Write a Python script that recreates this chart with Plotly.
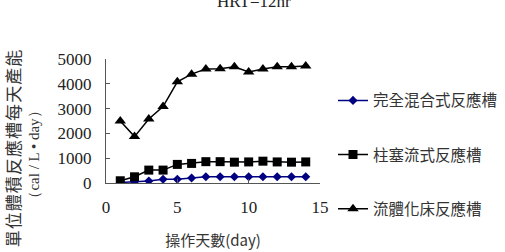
import plotly.graph_objects as go

days = list(range(1, 15))
cstr = [20, 50, 80, 150, 150, 200, 250, 250, 255, 255, 255, 255, 255, 255]
pfr = [90, 250, 520, 520, 750, 790, 860, 860, 840, 850, 880, 850, 840, 850]
fbr = [2500, 1870, 2580, 3080, 4080, 4390, 4600, 4610, 4690, 4480, 4600, 4690, 4690, 4720]
names = ["完全混合式反應槽", "柱塞流式反應槽", "流體化床反應槽"]
title_text = "HRT=12hr"
xtitle = "操作天數(day)"
ytitle1 = "單位體積反應槽每天產能"
ytitle2 = "（cal / L • day）"

CJK = "Noto Sans CJK TC"
SERIF = "Liberation Serif"

fig = go.Figure()
fig.add_trace(go.Scatter(x=days, y=cstr, name=names[0], mode="lines+markers",
                         line=dict(color="#000080", width=1.5),
                         marker=dict(symbol="diamond", size=7, color="#000080"),
                         legendgroup="a"))
fig.add_trace(go.Scatter(x=days, y=pfr, name=names[1], mode="lines+markers",
                         line=dict(color="black", width=1.5),
                         marker=dict(symbol="square", size=9, color="black"),
                         legendgroup="b"))
fig.add_trace(go.Scatter(x=days, y=fbr, name=names[2], mode="lines+markers",
                         line=dict(color="black", width=1.5),
                         marker=dict(symbol="triangle-up", size=10, color="black"),
                         legendgroup="c"))

spaced = "\u200a".join(ytitle1)

fig.update_layout(
    width=505, height=252,
    margin=dict(l=106, r=185, t=59, b=69, autoexpand=False),
    paper_bgcolor="white", plot_bgcolor="white",
    showlegend=True,
    legend=dict(xref="container", x=333 / 505, xanchor="left", y=0.8, yanchor="top",
                font=dict(family=CJK, size=15.5, color="#333"),
                tracegroupgap=31, bgcolor="rgba(0,0,0,0)", itemwidth=30,
                maxheight=400),
    xaxis=dict(range=[0, 15], tickvals=[0, 5, 10, 15], showgrid=False, zeroline=False,
               showline=True, linecolor="#555", linewidth=1, ticks="inside", ticklen=4,
               tickcolor="#555", tickfont=dict(family=SERIF, size=17, color="#222"),
               ticklabelstandoff=9, automargin=False,
               title=dict(text=xtitle, font=dict(family=CJK, size=15, color="#333"), standoff=19)),
    yaxis=dict(range=[0, 5000], tickvals=[0, 1000, 2000, 3000, 4000, 5000], showgrid=False,
               zeroline=False, showline=True, linecolor="#555", linewidth=1, ticks="inside",
               ticklen=4, tickcolor="#555", tickfont=dict(family=SERIF, size=17, color="#222"),
               ticklabelstandoff=10, automargin=False),
    annotations=[
        dict(text=title_text, xref="paper", yref="paper", x=0.69, y=1.46, showarrow=False,
             xanchor="center", yanchor="middle", font=dict(family=SERIF, size=17, color="#222")),
        dict(text=spaced, xref="paper", yref="paper", x=-0.439, y=0.28, showarrow=False,
             xanchor="center", yanchor="middle",
             textangle=-90, font=dict(family=CJK, size=17, color="#333")),
        dict(text=ytitle2, xref="paper", yref="paper", x=-0.336, y=0.23, showarrow=False,
             xanchor="center", yanchor="middle",
             textangle=-90, font=dict(family=SERIF, size=15, color="#333")),
    ],
)

fig.write_html("out.html")
